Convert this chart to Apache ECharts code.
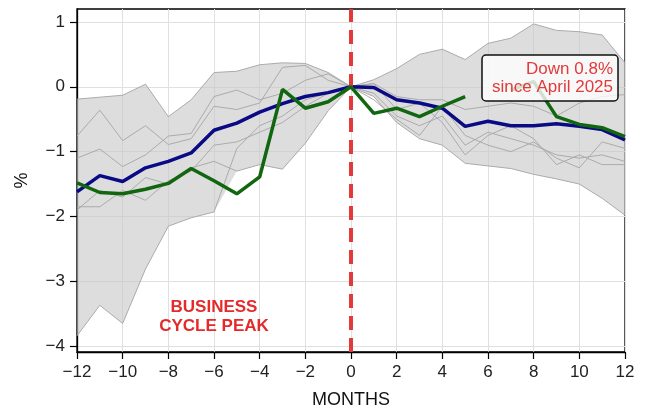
<!DOCTYPE html>
<html><head><meta charset="utf-8">
<script src="https://cdn.jsdelivr.net/npm/echarts@6/dist/echarts.min.js"></script>
<style>html,body{margin:0;padding:0;background:#fff}#c{width:645px;height:414px}</style>
</head><body><div id="c"></div>
<script>
const months = [-12,-11,-10,-9,-8,-7,-6,-5,-4,-3,-2,-1,0,1,2,3,4,5,6,7,8,9,10,11,12];
const xTicks = [-12,-10,-8,-6,-4,-2,0,2,4,6,8,10,12];
const yTicks = [-4,-3,-2,-1,0,1];

const currentCycle = [-1.48,-1.63,-1.65,-1.58,-1.49,-1.26,-1.45,-1.65,-1.39,-0.04,-0.33,-0.23,0,-0.41,-0.33,-0.46,-0.30,-0.15,null,-0.05,0.08,-0.46,-0.58,-0.63,-0.77];
const averageCycle = [-1.62,-1.37,-1.46,-1.25,-1.15,-1.02,-0.67,-0.56,-0.39,-0.26,-0.15,-0.09,0,-0.01,-0.2,-0.25,-0.33,-0.61,-0.53,-0.6,-0.6,-0.57,-0.61,-0.66,-0.82];
const bandUpper = [-0.19,-0.16,-0.13,0.04,-0.46,-0.2,0.22,0.24,0.34,0.37,0.36,0.22,0,0.11,0.28,0.5,0.58,0.42,0.67,0.75,0.97,0.87,0.85,0.8,0.37];
const bandLower = [-3.84,-3.37,-3.65,-2.81,-2.15,-2.02,-1.93,-1.3,-1.2,-1.27,-0.87,-0.37,0,-0.15,-0.55,-0.8,-0.9,-1.18,-1.22,-1.26,-1.35,-1.42,-1.5,-1.72,-1.98];
const pastCycle1 = [-0.19,-0.16,-0.13,0.04,-0.46,-0.2,0.22,0.24,0.34,0.37,0.36,0.22,0,0.11,0.28,0.5,0.58,0.42,0.67,0.75,0.97,0.87,0.85,0.8,0.37];
const pastCycle2 = [-0.76,-0.36,-0.83,-0.6,-0.89,-0.8,-0.3,-0.35,-0.25,0.3,0.33,0.1,0,-0.1,-0.45,-0.6,-0.45,-0.9,-0.7,-0.8,-0.9,-1.05,-1.1,-1.05,-1.15];
const pastCycle3 = [-1.1,-0.96,-1.23,-1.05,-0.76,-0.72,-0.15,-0.05,-0.2,-0.1,0.1,0.2,0,0.05,-0.15,-0.2,-0.2,-0.35,-0.3,-0.25,-0.3,-0.45,-0.25,-0.15,-0.12];
const pastCycle4 = [-1.85,-1.85,-1.6,-1.75,-1.45,-1.3,-0.9,-0.85,-0.7,-0.55,-0.3,-0.1,0,-0.2,-0.5,-0.75,-0.3,-0.75,-0.9,-1.0,-0.85,-1.1,-1.25,-0.85,-0.95];
const pastCycle5 = [-1.9,-1.6,-1.7,-1.4,-1.5,-1.25,-1.15,-1.3,-1.2,-1.27,-0.87,-0.37,0,-0.15,-0.55,-0.8,-0.9,-1.18,-1.22,-1.26,-1.35,-1.42,-1.5,-1.72,-1.98];
const pastCycle6 = [-3.84,-3.37,-3.65,-2.81,-2.15,-2.02,-1.93,-0.95,-0.6,-0.45,-0.2,-0.1,0,0.05,-0.35,-0.25,-0.55,-1.05,-0.75,-0.6,-0.8,-1.2,-1.05,-1.2,-1.2];
const pastCycles = [pastCycle1,pastCycle2,pastCycle3,pastCycle4,pastCycle5,pastCycle6];

const pairs = arr => months.map((m,i) => [m, arr[i]]);
const minus = v => String(v).replace('-', '\u2212');
const FONT = 'Liberation Sans';
const RED = '#e23a3a';

const series = [];
series.push({type:'custom', silent:true, z:1, clip:true, data:[[0,0]],
  renderItem:(params, api) => {
    const top = months.map((m,i) => api.coord([m, bandUpper[i]]));
    const bot = months.map((m,i) => api.coord([m, bandLower[i]])).reverse();
    return {type:'polygon', shape:{points: top.concat(bot)}, style:{fill:'rgba(200,200,200,0.62)', stroke:'none'}};
  }});
pastCycles.forEach(c => series.push({type:'line', data: pairs(c), symbol:'none', silent:true,
  lineStyle:{color:'#aaaaaa', width:1}, z:2}));
series.push({type:'line', data: pairs(averageCycle), symbol:'none', lineStyle:{color:'#0a0a85', width:3.5}, z:4});
series.push({type:'line', data: pairs(currentCycle), symbol:'none', connectNulls:false, lineStyle:{color:'#11660f', width:3.5}, z:5});
series.push({type:'line', data: [], z:6, markLine:{silent:true, symbol:['none','none'], label:{show:false},
  lineStyle:{color:RED, width:4, type:[14,8]}, data:[{xAxis:0}]}});

const chart = echarts.init(document.getElementById('c'), null, {renderer:'canvas'});
chart.setOption({
  animation:false,
  grid:{left:77, right:20, top:9, bottom:62, show:true, borderColor:'#000', borderWidth:1.3, backgroundColor:'transparent'},
  xAxis:{type:'value', min:-12, max:12, interval:2,
    name:'MONTHS', nameLocation:'middle', nameGap:39, nameTextStyle:{fontFamily:FONT, fontSize:18, color:'#111'},
    axisLine:{show:true, onZero:false, lineStyle:{color:'#000', width:1.3}},
    axisTick:{show:true, length:7, lineStyle:{color:'#000', width:1.2}},
    axisLabel:{fontFamily:FONT, fontSize:17, color:'#222', margin:12, formatter: v => minus(v)},
    splitLine:{show:true, lineStyle:{color:'#e0e0e0', width:1}}},
  yAxis:{type:'value', min:-4.09, max:1.2,
    name:'%', nameLocation:'middle', nameGap:46, nameRotate:90, nameTextStyle:{fontFamily:FONT, fontSize:18, color:'#111'},
    axisLine:{show:true, onZero:false, lineStyle:{color:'#000', width:1.3}},
    axisTick:{show:true, length:7, customValues:yTicks, lineStyle:{color:'#000', width:1.2}},
    axisLabel:{fontFamily:FONT, fontSize:17, color:'#222', margin:12, customValues:yTicks, formatter: v => minus(v)},
    splitLine:{show:true, lineStyle:{color:'#e0e0e0', width:1}}},
  series: series,
  graphic:[
    {type:'rect', z:50, shape:{x:482, y:55, width:136, height:46, r:4},
      style:{fill:'rgba(255,255,255,0.8)', stroke:'#111', lineWidth:1.5}},
    {type:'text', z:51, style:{x:613, y:69, text:'Down 0.8%', align:'right', verticalAlign:'middle',
      font:'17px "Liberation Sans"', fill:RED}},
    {type:'text', z:51, style:{x:613, y:87, text:'since April 2025', align:'right', verticalAlign:'middle',
      font:'17px "Liberation Sans"', fill:RED}},
    {type:'text', z:51, style:{x:214, y:307, text:'BUSINESS', align:'center', verticalAlign:'middle',
      font:'bold 17px "Liberation Sans"', fill:'#e42a2a', shadowBlur:3, shadowColor:'rgba(228,42,42,0.5)'}},
    {type:'text', z:51, style:{x:214, y:326, text:'CYCLE PEAK', align:'center', verticalAlign:'middle',
      font:'bold 17px "Liberation Sans"', fill:'#e42a2a', shadowBlur:3, shadowColor:'rgba(228,42,42,0.5)'}}
  ]
});
</script></body></html>
